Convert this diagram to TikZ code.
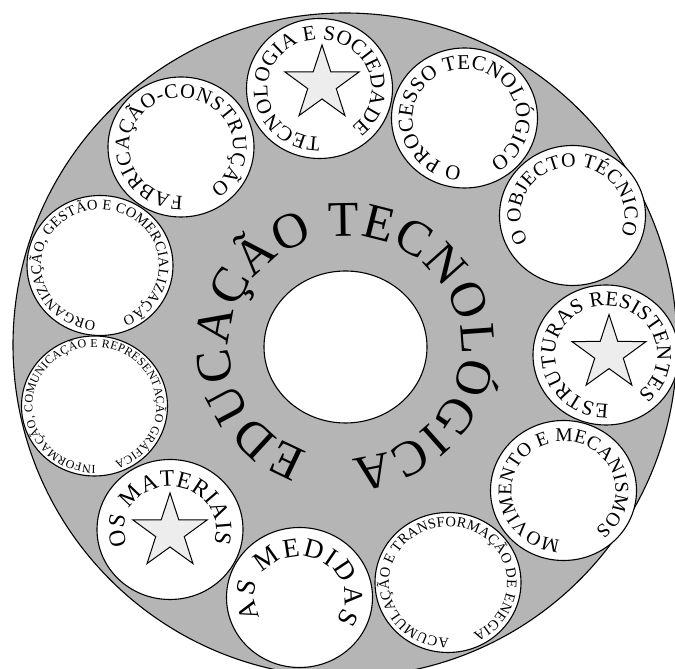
\documentclass[tikz,border=0pt]{standalone}
\usepackage{fontspec}
\setmainfont{Liberation Serif}
\usepackage{xcolor}
\usepackage{tikz}
\usetikzlibrary{decorations.text,shapes.geometric}
\definecolor{diskgray}{gray}{0.71}
\definecolor{stargray}{gray}{0.93}
\tikzset{
  disk/.style={draw=black,line width=1.1pt,fill=diskgray},
  hole/.style={draw=black,line width=1.1pt,fill=white},
  starmark/.style={star,star points=5,star point ratio=2.6,minimum size=78pt,inner sep=0pt,draw=black,line width=1pt,fill=stargray}
}
\newcommand{\ringtext}[7]{\path[decorate,decoration={text along path,text align={fit to path},text={|\fontsize{#6}{#6}\selectfont|#7}}] (#1) ++(#4:#2 and #3) arc[start angle=#4,end angle=#5,x radius=#2,y radius=#3];}

\begin{document}
\begin{tikzpicture}[x=1pt,y=1pt]
\useasboundingbox (0,0) rectangle (675,669);
\clip (0,0) rectangle (675,669);
\coordinate (mid) at (345,324); \coordinate (hub) at (345.5,322);
\coordinate (soc) at (319.5,580.5); \coordinate (proc) at (464.5,551); \coordinate (obj) at (572.5,453.5);
\coordinate (estr) at (606,314); \coordinate (mov) at (563.5,178.5); \coordinate (ener) at (448,86.5);
\coordinate (med) at (299.5,71.5); \coordinate (mat) at (170,139.5); \coordinate (info) at (94.5,263);
\coordinate (org) at (100,403.5); \coordinate (fab) at (181,522);
\draw[disk] (mid) circle[radius=332];
\draw[hole] (hub) ellipse[x radius=81.5,y radius=76];
\foreach \c in {soc,proc,obj,estr,mov,ener,med,mat,info,org,fab} {\draw[hole] (\c) ellipse[x radius=73,y radius=70];}
\node[starmark] (star-soc) at (322,585) {};
\node[starmark] (star-estr) at (609,315.4) {};
\node[starmark] (star-mat) at (170,137) {};
\ringtext{hub}{116}{111}{251}{-87}{50}{EDUCAÇÃO TECNOLÓGICA}
\ringtext{soc}{52}{49}{271}{-52}{21}{TECNOLOGIA E SOCIEDADE}
\ringtext{proc}{52}{49}{267}{-61}{21}{O PROCESSO TECNOLÓGICO}
\ringtext{obj}{52}{49}{212}{-22}{20}{O OBJECTO TÉCNICO}
\ringtext{estr}{51}{49}{273}{-51.5}{21}{ESTRUTURAS RESISTENTES}
\ringtext{mov}{52}{49}{266.5}{-52.7}{19.5}{MOVIMENTO E MECANISMOS}
\ringtext{ener}{59}{56}{271}{-65}{14.5}{ACUMULAÇÃO E TRANSFORMAÇÃO DE ENEGIA}
\ringtext{med}{45}{41}{209}{-35}{27}{AS MEDIDAS}
\ringtext{mat}{46}{43}{202}{-19}{23.5}{OS MATERIAIS}
\ringtext{info}{62}{59}{271}{-71}{12}{INFORMAÇÃO, COMUNICAÇÃO E REPRESENTAÇÃO GRÁFICA}
\ringtext{org}{59}{56}{266}{-68}{14.5}{ORGANIZAÇÃO, GESTÃO E COMERCIALIZAÇÃO}
\ringtext{fab}{52}{49}{272}{-56}{20.5}{FABRICAÇÃO-CONSTRUÇÃO}
\end{tikzpicture}
\end{document}
